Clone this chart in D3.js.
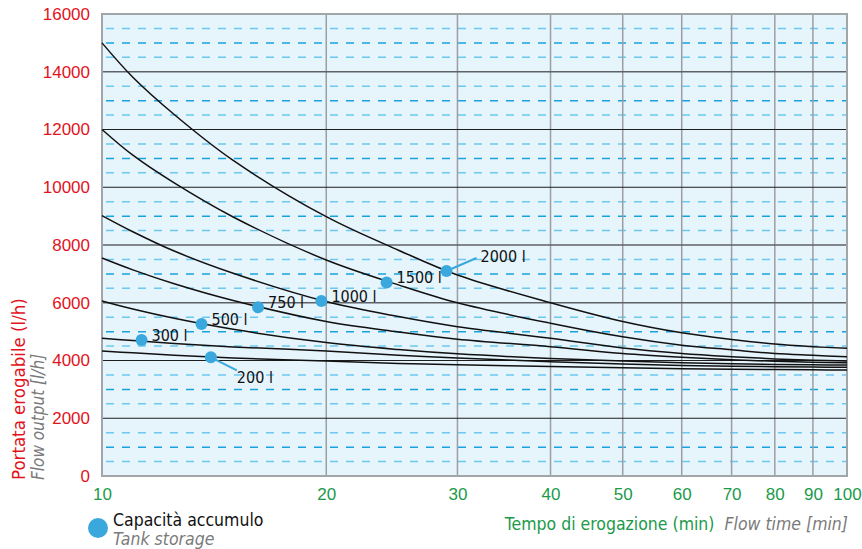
<!DOCTYPE html>
<html>
<head>
<meta charset="utf-8">
<script src="https://cdn.jsdelivr.net/npm/d3@7"></script>
<style>
  body { margin: 0; background: #fff; }
  svg { display: block; font-family: "Liberation Sans Narrow", "DejaVu Sans Condensed", "Arial Narrow", sans-serif; }
</style>
</head>
<body>
<svg width="862" height="549"></svg>
<script>
// flow time (min) where each curve was read
const times = [10, 11, 12.5, 15, 20, 25, 30, 40, 50, 60, 70, 80, 90, 100]

// flow output (l/h) per tank size
const q2000 = [15000, 13810, 12520, 10930, 8980, 7820, 6960, 6000, 5350, 4960, 4730, 4570, 4480, 4420]
const q1500 = [12000, 11110, 10150, 8970, 7480, 6620, 6000, 5290, 4820, 4530, 4370, 4240, 4180, 4130]
const q1000 = [9020, 8460, 7790, 7020, 6040, 5520, 5170, 4770, 4430, 4240, 4130, 4055, 4010, 3985]
const q750 = [7550, 7140, 6660, 6080, 5350, 4990, 4740, 4480, 4240, 4110, 4030, 3970, 3940, 3920]
const q500 = [6060, 5780, 5460, 5080, 4620, 4380, 4230, 4070, 3980, 3920, 3890, 3865, 3850, 3845]
const q300 = [4770, 4690, 4590, 4470, 4330, 4180, 4090, 3960, 3880, 3830, 3800, 3785, 3772, 3765]
const q200 = [4330, 4265, 4180, 4090, 3980, 3900, 3850, 3790, 3745, 3715, 3698, 3685, 3677, 3670]

// labelled points on the curves
const capLabels = ["2000 l", "1500 l", "1000 l", "750 l", "500 l", "300 l", "200 l"]
const capTimes = [29, 24.1, 19.7, 16.2, 13.6, 11.3, 14]
const capFlows = [7100, 6700, 6060, 5840, 5260, 4710, 4110]

const xTicks = [10, 20, 30, 40, 50, 60, 70, 80, 90, 100]
const yTicks = [0, 2000, 4000, 6000, 8000, 10000, 12000, 14000, 16000]
const yMinor = d3.range(500, 16000, 500).filter(v => v % 2000 !== 0)

const svg = d3.select("svg")
const xScale = d3.scaleLog().domain([10, 100]).range([102, 847])
const yScale = d3.scaleLinear().domain([0, 16000]).range([476, 14])

// background
svg.append("rect")
    .attr("x", xScale(10)).attr("y", yScale(16000))
    .attr("width", xScale(100) - xScale(10))
    .attr("height", yScale(0) - yScale(16000))
    .attr("fill", "#e6f4fc")

// dashed minor lines
svg.append("g").attr("id", "minorG")
    .selectAll("line")
    .data(yMinor)
    .enter()
    .append("line")
    .attr("x1", xScale(10) + 4).attr("x2", xScale(100))
    .attr("y1", d => yScale(d)).attr("y2", d => yScale(d))
    .attr("stroke", d => d % 1000 === 0 ? "#18a2e0" : "#6cc8f0")
    .attr("stroke-width", 1.5)
    .attr("stroke-dasharray", "8,8")

// vertical grid
svg.append("g").attr("id", "vertG")
    .selectAll("line")
    .data(xTicks.slice(1, -1))
    .enter()
    .append("line")
    .attr("x1", d => xScale(d)).attr("x2", d => xScale(d))
    .attr("y1", yScale(16000)).attr("y2", yScale(0))
    .attr("stroke", "#9b9ea2")
    .attr("stroke-width", 1.5)

// horizontal major grid
svg.append("g").attr("id", "majorG")
    .selectAll("line")
    .data(yTicks.slice(1, -1))
    .enter()
    .append("line")
    .attr("x1", xScale(10)).attr("x2", xScale(100))
    .attr("y1", d => yScale(d)).attr("y2", d => yScale(d))
    .attr("stroke", d => [14000, 8000, 6000].includes(d) ? "#5e6266" : "#1e1e1e")
    .attr("stroke-width", d => [14000, 8000, 6000].includes(d) ? 1.6 : 1.2)

// frame
svg.append("rect")
    .attr("x", xScale(10)).attr("y", yScale(16000))
    .attr("width", xScale(100) - xScale(10))
    .attr("height", yScale(0) - yScale(16000))
    .attr("fill", "none")
    .attr("stroke", "#a3a6a9")
    .attr("stroke-width", 2)

// curves
const series = [q2000, q1500, q1000, q750, q500, q300, q200]
const line = d3.line()
    .x((d, i) => xScale(times[i]))
    .y(d => yScale(d))
    .curve(d3.curveCatmullRom.alpha(0.5))

svg.append("g").attr("id", "curves")
    .selectAll("path")
    .data(series)
    .enter()
    .append("path")
    .attr("d", d => line(d))
    .attr("fill", "none")
    .attr("stroke", "#111")
    .attr("stroke-width", 1.5)

// markers + labels
const marks = capLabels.map((label, i) => ({ label, t: capTimes[i], q: capFlows[i] }))
const markG = svg.append("g").attr("id", "marks")

marks.forEach(m => {
    const cx = xScale(m.t), cy = yScale(m.q)
    let tx = cx + 10, ty = cy - 5
    if (m.label === "2000 l") {
        markG.append("line")
            .attr("x1", cx).attr("y1", cy).attr("x2", cx + 30).attr("y2", cy - 13)
            .attr("stroke", "#3aa8dc").attr("stroke-width", 2)
        tx = cx + 34; ty = cy - 15
    }
    if (m.label === "200 l") {
        markG.append("line")
            .attr("x1", cx).attr("y1", cy).attr("x2", cx + 26).attr("y2", cy + 13)
            .attr("stroke", "#3aa8dc").attr("stroke-width", 2)
        tx = cx + 26; ty = cy + 20
    }
    markG.append("circle")
        .attr("cx", cx).attr("cy", cy).attr("r", 6)
        .attr("fill", "#3aa8dc")
    markG.append("text")
        .attr("x", tx).attr("y", ty)
        .attr("dy", "0.35em")
        .attr("font-size", 16)
        .attr("fill", "#111")
        .text(m.label)
})

// axes
const xAxis = d3.axisBottom(xScale).tickValues(xTicks).tickSize(0).tickFormat(d3.format("d"))
const yAxis = d3.axisLeft(yScale).tickValues(yTicks).tickSize(0).tickFormat(d3.format("d"))

svg.append("g")
    .attr("id", "xAxisG")
    .attr("transform", `translate(0, ${yScale(0)})`)
    .call(xAxis)

svg.append("g")
    .attr("id", "yAxisG")
    .attr("transform", `translate(${xScale(10)}, 0)`)
    .call(yAxis)

d3.select("#xAxisG").selectAll("text")
    .attr("y", 12)
    .attr("font-size", 17)
    .attr("font-family", null)
    .attr("fill", "#1a9a4a")

d3.select("#yAxisG").selectAll("text")
    .attr("x", -12)
    .attr("font-size", 17)
    .attr("font-family", null)
    .attr("fill", "#e2131c")

svg.selectAll("path.domain").style("display", "none")

// axis titles
svg.append("text")
    .attr("transform", "translate(25, 480) rotate(-90)")
    .attr("font-size", 18.5)
    .attr("fill", "#e2131c")
    .text("Portata erogabile (l/h)")

svg.append("text")
    .attr("transform", "translate(44, 480) rotate(-90)")
    .attr("font-size", 17)
    .attr("font-style", "italic")
    .attr("fill", "#7a7a7a")
    .text("Flow output [l/h]")

const xTitle = svg.append("text")
    .attr("x", 848).attr("y", 530)
    .attr("text-anchor", "end")
    .attr("font-size", 17.5)
xTitle.append("tspan").attr("fill", "#1a9a4a").text("Tempo di erogazione (min)")
xTitle.append("tspan").attr("fill", "#7a7a7a").attr("font-style", "italic").attr("dx", 10).text("Flow time [min]")

// legend
svg.append("circle").attr("cx", 98).attr("cy", 528).attr("r", 10).attr("fill", "#3aa8dc")
svg.append("text").attr("x", 113).attr("y", 526)
    .attr("font-size", 17.5).attr("fill", "#111")
    .text("Capacità accumulo")
svg.append("text").attr("x", 113).attr("y", 545)
    .attr("font-size", 17.5).attr("font-style", "italic").attr("fill", "#7a7a7a")
    .text("Tank storage")
</script>
</body>
</html>
